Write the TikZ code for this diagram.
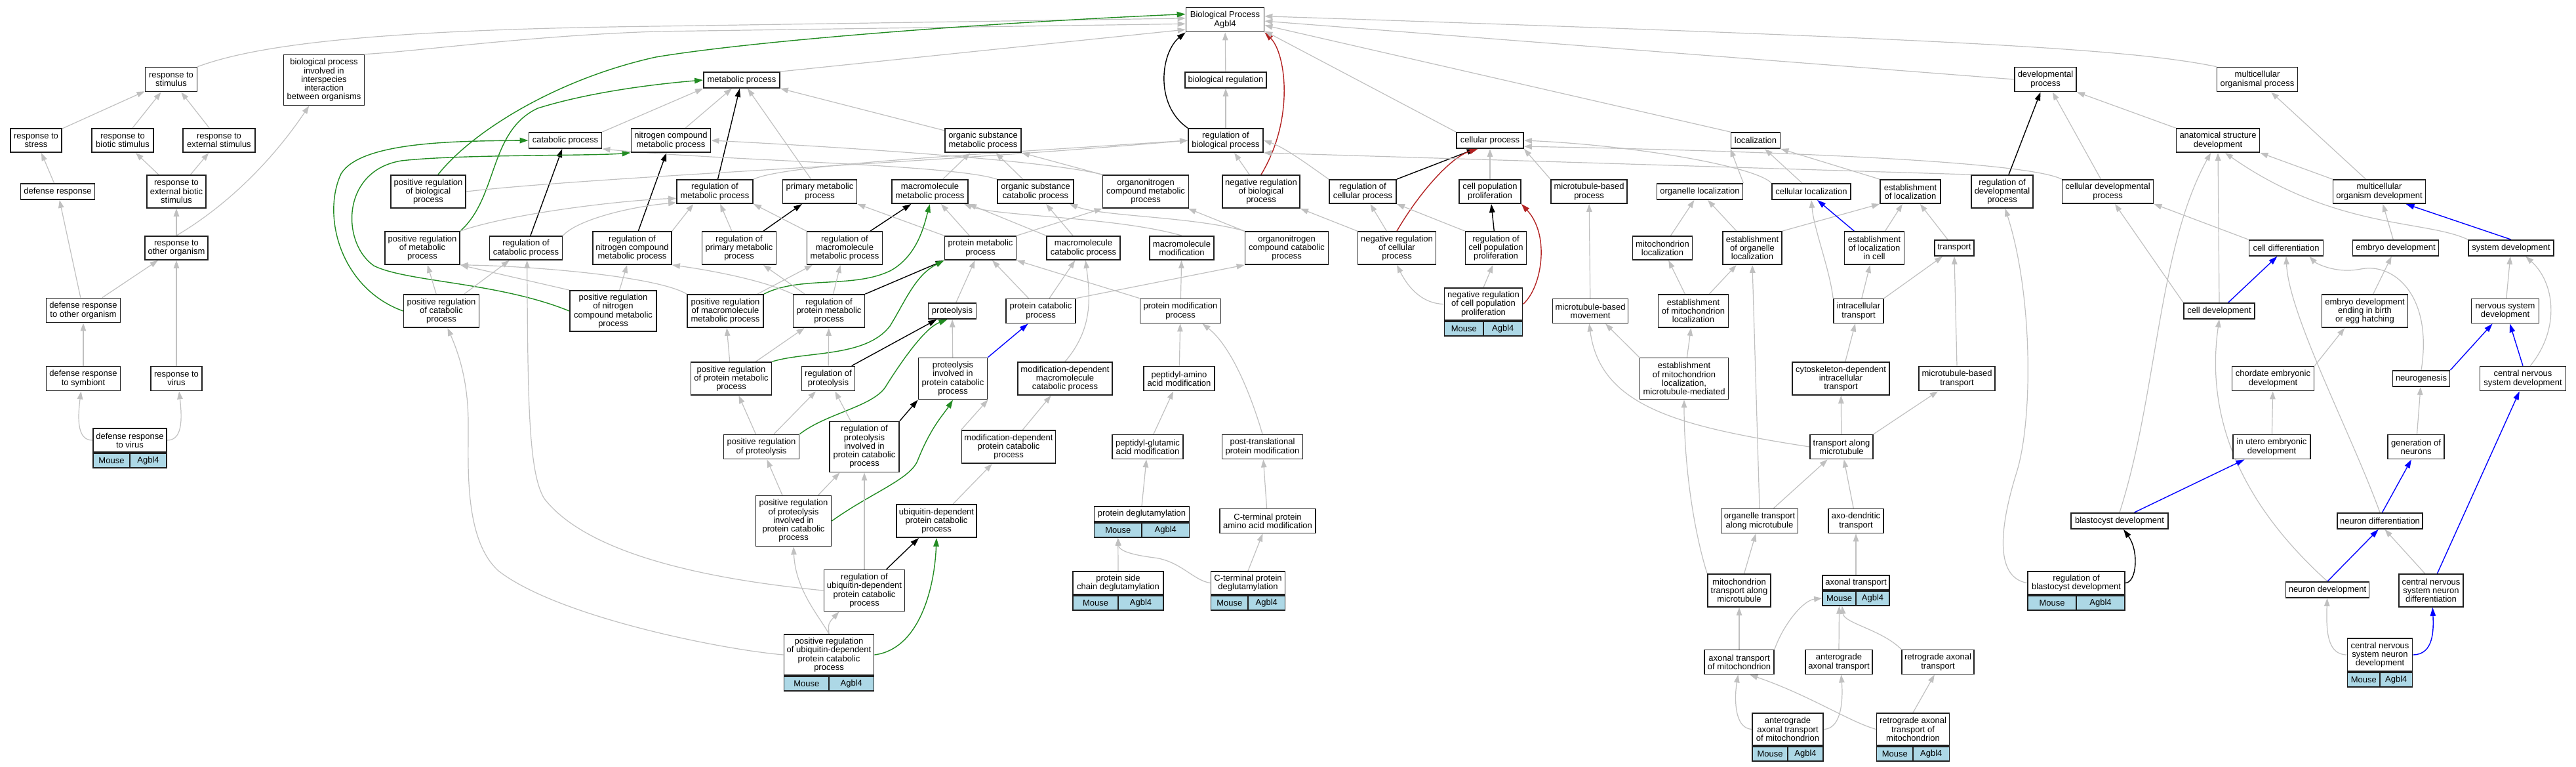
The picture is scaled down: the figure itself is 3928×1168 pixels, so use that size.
\documentclass[tikz,border=0pt]{standalone}
\usepackage{fontspec}
\setmainfont{Liberation Sans}
\usetikzlibrary{arrows.meta}
\definecolor{eg}{RGB}{192,192,192}
\definecolor{egreen}{RGB}{34,139,34}
\definecolor{ered}{RGB}{178,34,34}
\definecolor{eblue}{RGB}{0,0,255}
\definecolor{genefill}{RGB}{173,216,230}
\definecolor{boxline}{RGB}{30,30,30}
\pgfdeclarelayer{edges}
\pgfsetlayers{edges,main}
\newcommand\nodefont{\fontsize{13}{13.3}\selectfont}
\tikzset{
  gobox/.style={draw=boxline, line width=1.8pt, fill=white, align=center, inner sep=0pt, font=\nodefont},
  genecell/.style={draw=boxline, line width=1.8pt, fill=genefill, inner sep=0pt, minimum height=22pt, font=\nodefont},
  isa/.style={draw=eg, line width=1.2pt, -{Triangle[length=12pt,width=8.5pt]}},
  reg/.style={draw=black, line width=1.4pt, -{Triangle[length=13pt,width=8.5pt]}},
  posreg/.style={draw=egreen, line width=1.4pt, -{Triangle[length=13pt,width=8.5pt]}},
  negreg/.style={draw=ered, line width=1.4pt, -{Triangle[length=13pt,width=8.5pt]}},
  partof/.style={draw=eblue, line width=1.4pt, -{Triangle[length=13pt,width=8.5pt]}},
}
\newcommand\GO[6]{\node[gobox,minimum width=#4pt,minimum height=#5pt] (#1) at (#2,#3) {#6};}
\newcommand\GENE[6]{\GO{#1}{#2}{#3}{#4}{#5}{#6}
  \node[genecell,anchor=north west,minimum width={#4pt/2}] (#1m) at (#1.south west) {Mouse};
  \node[genecell,anchor=north east,minimum width={#4pt/2}] (#1g) at (#1.south east) {Agbl4};}
\begin{document}
\begin{tikzpicture}[x=1pt,y=-1pt]
\useasboundingbox (0,0) rectangle (3928,1168);
% ---- nodes ----
\GO{BP}{1868}{30}{119}{37}{Biological Process\\Agbl4}
\GO{rstim}{261}{121}{79}{37}{response to\\stimulus}
\GO{interspec}{494}{122}{123}{77}{biological process\\involved in\\interspecies\\interaction\\between organisms}
\GO{metab}{1131}{122}{116}{24}{metabolic process}
\GO{bioreg}{1869}{122}{124}{24}{biological regulation}
\GO{devp}{3119}{121}{94}{37}{developmental\\process}
\GO{mcop}{3442}{121}{123}{37}{multicellular\\organismal process}
% row 214
\GO{rstress}{55}{214}{78}{36}{response to\\stress}
\GO{rbiotic}{187}{214}{94}{36}{response to\\biotic stimulus}
\GO{rext}{334}{214}{110}{36}{response to\\external stimulus}
\GO{catab}{862}{214}{111}{24}{catabolic process}
\GO{ncmp}{1023}{214}{121}{36}{nitrogen compound\\metabolic process}
\GO{osmp}{1499}{214}{116}{36}{organic substance\\metabolic process}
\GO{rbp}{1869}{214}{114}{36}{regulation of\\biological process}
\GO{cellp}{2272}{214}{102}{24}{cellular process}
\GO{loc}{2677}{214}{75}{24}{localization}
\GO{asd}{3382}{214}{127}{36}{anatomical structure\\development}
% row 292
\GO{defresp}{88}{292}{113}{24}{defense response}
\GO{rextbio}{269}{292}{90}{50}{response to\\external biotic\\stimulus}
\GO{prbp}{653}{292}{114}{50}{positive regulation\\of biological\\process}
\GO{rmp}{1090}{292}{116}{36}{regulation of\\metabolic process}
\GO{primp}{1250}{292}{113}{36}{primary metabolic\\process}
\GO{mmp}{1418}{292}{116}{36}{macromolecule\\metabolic process}
\GO{oscp}{1579}{292}{116}{36}{organic substance\\catabolic process}
\GO{oncmp}{1747}{292}{131}{50}{organonitrogen\\compound metabolic\\process}
\GO{nrbp}{1923}{292}{118}{50}{negative regulation\\of biological\\process}
\GO{rcelp}{2078}{292}{102}{36}{regulation of\\cellular process}
\GO{cpp}{2272}{292}{94}{36}{cell population\\proliferation}
\GO{mtbp}{2423}{292}{116}{36}{microtubule-based\\process}
\GO{orgloc}{2592}{292}{131}{24}{organelle localization}
\GO{cellloc}{2762}{292}{120}{24}{cellular localization}
\GO{estloc}{2913}{292}{92}{36}{establishment\\of localization}
\GO{rdp}{3053}{292}{94}{50}{regulation of\\developmental\\process}
\GO{cdp}{3214}{292}{139}{36}{cellular developmental\\process}
\GO{mod}{3628}{292}{141}{36}{multicellular\\organism development}
% row 378
\GO{rother}{269}{378}{96}{36}{response to\\other organism}
\GO{prmp}{644}{378}{114}{50}{positive regulation\\of metabolic\\process}
\GO{rcatp}{802}{378}{111}{36}{regulation of\\catabolic process}
\GO{rncmp}{964}{378}{120}{50}{regulation of\\nitrogen compound\\metabolic process}
\GO{rprimp}{1127}{378}{113}{50}{regulation of\\primary metabolic\\process}
\GO{rmmp}{1288}{378}{115}{50}{regulation of\\macromolecule\\metabolic process}
\GO{pmp}{1495}{378}{109}{36}{protein metabolic\\process}
\GO{mcp}{1652}{378}{112}{36}{macromolecule\\catabolic process}
\GO{mmod}{1802}{378}{98}{36}{macromolecule\\modification}
\GO{onccp}{1962}{378}{127}{50}{organonitrogen\\compound catabolic\\process}
\GO{nrcp}{2130}{378}{119}{50}{negative regulation\\of cellular\\process}
\GO{rcpp}{2281}{378}{93}{50}{regulation of\\cell population\\proliferation}
\GO{mitoloc}{2535}{378}{91}{36}{mitochondrion\\localization}
\GO{estorgloc}{2672}{378}{90}{50}{establishment\\of organelle\\localization}
\GO{estlocc}{2858}{378}{91}{50}{establishment\\of localization\\in cell}
\GO{transp}{2980}{378}{60}{24}{transport}
\GO{celldiff}{3486}{378}{113}{24}{cell differentiation}
\GO{embdev}{3653}{378}{131}{24}{embryo development}
\GO{sysdev}{3829}{378}{130}{24}{system development}
% row 474
\GO{drother}{127}{473}{113}{37}{defense response\\to other organism}
\GO{prcp}{673}{474}{115}{50}{positive regulation\\of catabolic\\process}
\GO{prncmp}{935}{474}{132}{62}{positive regulation\\of nitrogen\\compound metabolic\\process}
\GO{prmmp}{1106}{474}{116}{50}{positive regulation\\of macromolecule\\metabolic process}
\GO{rprmp}{1264}{474}{109}{50}{regulation of\\protein metabolic\\process}
\GO{proteol}{1452}{474}{73}{24}{proteolysis}
\GO{pcp}{1587}{474}{106}{37}{protein catabolic\\process}
\GO{pmodp}{1800}{474}{123}{37}{protein modification\\process}
\GENE{nrcpp}{2262}{463.5}{119}{49}{negative regulation\\of cell population\\proliferation}
\GO{mtbm}{2425}{474}{115}{37}{microtubule-based\\movement}
\GO{estmitoloc}{2582}{474}{107}{50}{establishment\\of mitochondrion\\localization}
\GO{intrat}{2834}{474}{76}{37}{intracellular\\transport}
\GO{celldev}{3384}{474}{108}{24}{cell development}
\GO{edebeh}{3606}{474}{131}{50}{embryo development\\ending in birth\\or egg hatching}
\GO{nsd}{3820}{474}{103}{37}{nervous system\\development}
% row 577
\GO{drsym}{127}{577}{113}{37}{defense response\\to symbiont}
\GO{rvirus}{269}{577}{78}{37}{response to\\virus}
\GO{prpmp}{1115}{577}{123}{50}{positive regulation\\of protein metabolic\\process}
\GO{rprot}{1263}{577}{81}{37}{regulation of\\proteolysis}
\GO{pipcp}{1453}{577}{105}{63}{proteolysis\\involved in\\protein catabolic\\process}
\GO{mdmcp}{1624}{577}{144}{50}{modification-dependent\\macromolecule\\catabolic process}
\GO{paam}{1798}{577}{108}{37}{peptidyl-amino\\acid modification}
\GO{emlmm}{2568}{577}{135}{63}{establishment\\of mitochondrion\\localization,\\microtubule-mediated}
\GO{cdit}{2807}{577}{148}{50}{cytoskeleton-dependent\\intracellular\\transport}
\GO{mtbt}{2984}{577}{116}{37}{microtubule-based\\transport}
\GO{ced}{3466}{577}{125}{37}{chordate embryonic\\development}
\GO{neurog}{3692}{577}{87}{24}{neurogenesis}
\GO{cnsd}{3847}{577}{131}{37}{central nervous\\system development}
% row 681
\GENE{drvirus}{198}{671}{112}{36}{defense response\\to virus}
\GO{prprot}{1161}{681}{115}{37}{positive regulation\\of proteolysis}
\GO{rpipcp}{1318}{681}{106}{77}{regulation of\\proteolysis\\involved in\\protein catabolic\\process}
\GO{mdpcp}{1538}{681}{143}{50}{modification-dependent\\protein catabolic\\process}
\GO{pgam}{1750}{681}{108}{37}{peptidyl-glutamic\\acid modification}
\GO{ptpm}{1925}{681}{123}{37}{post-translational\\protein modification}
\GO{tam}{2808}{681}{96}{37}{transport along\\microtubule}
\GO{iued}{3464}{681}{118}{37}{in utero embryonic\\development}
\GO{gon}{3684}{681}{86}{37}{generation of\\neurons}
% row 794
\GO{prpipcp}{1210}{794}{115}{77}{positive regulation\\of proteolysis\\involved in\\protein catabolic\\process}
\GO{upcp}{1428}{794}{122}{50}{ubiquitin-dependent\\protein catabolic\\process}
\GENE{pdeglu}{1741}{783.5}{145}{23}{protein deglutamylation}
\GO{ctpaam}{1933}{794}{146}{37}{C-terminal protein\\amino acid modification}
\GO{otam}{2683}{794}{117}{37}{organelle transport\\along microtubule}
\GO{adt}{2830}{794}{84}{37}{axo-dendritic\\transport}
\GO{blast}{3232}{794}{148}{24}{blastocyst development}
\GO{neurdiff}{3629}{794}{130}{24}{neuron differentiation}
% row 900
\GO{rupcp}{1318}{900}{123}{63}{regulation of\\ubiquitin-dependent\\protein catabolic\\process}
\GENE{pscd}{1705}{888.5}{138}{35}{protein side\\chain deglutamylation}
\GENE{ctpd}{1903}{888.5}{113}{35}{C-terminal protein\\deglutamylation}
\GO{mtam}{2652}{900}{96}{50}{mitochondrion\\transport along\\microtubule}
\GENE{axt}{2830}{888}{102}{22}{axonal transport}
\GENE{rbd}{3166}{888.5}{148}{35}{regulation of\\blastocyst development}
\GO{neurdev}{3549}{899}{127}{24}{neuron development}
\GO{cnsnd}{3707}{900}{98}{50}{central nervous\\system neuron\\differentiation}
% row 1009
\GENE{prupcp}{1264}{998}{137}{62}{positive regulation\\of ubiquitin-dependent\\protein catabolic\\process}
\GO{atm}{2652}{1009}{106}{37}{axonal transport\\of mitochondrion}
\GO{aat}{2804}{1009}{102}{37}{anterograde\\axonal transport}
\GO{rat}{2955}{1009}{110}{37}{retrograde axonal\\transport}
\GENE{cnsndev}{3629}{998}{99}{50}{central nervous\\system neuron\\development}
% row 1111
\GENE{aatm}{2726}{1111.5}{108}{49}{anterograde\\axonal transport\\of mitochondrion}
\GENE{ratm}{2917}{1111.5}{111}{49}{retrograde axonal\\transport of\\mitochondrion}
% ---- edges ----
\begin{pgfonlayer}{edges}
% left cluster
\draw[isa] (rstress) -- (rstim);
\draw[isa] (rbiotic) -- (rstim);
\draw[isa] (rext) -- (rstim);
\draw[isa] (defresp) -- (rstress);
\draw[isa] (rextbio) -- (rbiotic);
\draw[isa] (rextbio) -- (rext);
\draw[isa] (rother) -- (rextbio);
\draw[isa] (rother.north) .. controls (360,305) and (425,230) .. (interspec.-120);
\draw[isa] (drother) -- (defresp);
\draw[isa] (drother) -- (rother);
\draw[isa] (drsym) -- (drother);
\draw[isa] (rvirus) -- (rother);
\draw[isa] (drvirus.west) .. controls (118,671) and (118,640) .. (drsym.-100);
\draw[isa] (drvirus.east) .. controls (278,671) and (278,640) .. (rvirus.-78);
\draw[isa] (rstim.north east) .. controls (400,65) and (600,45) .. (1000,40) -- (BP.178);
\draw[isa] (interspec.north east) .. controls (640,78) and (800,55) .. (1000,48) -- (BP.186);
% metabolic cluster
\draw[isa] (metab.north east) -- (BP.194);
\draw[posreg] (prbp.60) .. controls (720,200) and (850,120) .. (1000,87) .. controls (1150,62) and (1500,35) .. (BP.172);
\draw[isa] (catab.north east) -- (metab.south west);
\draw[isa] (ncmp) -- (metab);
\draw[reg] (rmp) -- (metab);
\draw[isa] (primp) -- (metab);
\draw[isa] (osmp) -- (metab.south east);
\draw[posreg] (prmp.north east) .. controls (760,300) and (745,200) .. (820,165) .. controls (900,140) and (1000,128) .. (metab.west);
\draw[posreg] (prcp.west) .. controls (520,440) and (490,330) .. (520,265) .. controls (550,215) and (700,215) .. (catab.west);
\draw[reg] (rcatp) -- (catab);
\draw[posreg] (prncmp.west) .. controls (760,430) and (620,430) .. (570,405) .. controls (520,370) and (520,260) .. (612,245) .. controls (700,235) and (900,238) .. (ncmp.south west);
\draw[reg] (rncmp) -- (ncmp);
\draw[isa] (oncmp.north west) .. controls (1600,245) and (1300,225) .. (ncmp.east);
\draw[isa] (oscp.north west) .. controls (1450,250) and (1100,245) .. (catab.south east);
\draw[isa] (bioreg) -- (BP);
\draw[isa] (rbp) -- (bioreg);
\draw[reg] (rbp.north west) .. controls (1760,160) and (1770,80) .. (BP.south west);
\draw[negreg] (nrbp.north) .. controls (1975,180) and (1960,80) .. (BP.south east);
\draw[isa] (prbp.east) .. controls (900,270) and (1400,250) .. (rbp.west);
\draw[isa] (rmp.north east) .. controls (1200,250) and (1500,235) .. (rbp.west);
\draw[isa] (prmp.north east) .. controls (780,325) and (950,305) .. (rmp.190);
\draw[isa] (rcatp.north east) .. controls (880,335) and (960,315) .. (rmp.196);
\draw[isa] (rncmp.north east) -- (rmp.-150);
\draw[isa] (prcp) -- (prmp);
\draw[isa] (prcp) -- (rcatp);
\draw[isa] (prncmp) -- (rncmp);
\draw[isa] (prncmp.north west) -- (prmp.south east);
\draw[isa] (prmmp.north west) .. controls (1000,420) and (800,405) .. (prmp.south east);
\draw[isa] (rupcp.west) .. controls (1100,885) and (900,850) .. (830,760) .. controls (805,720) and (805,600) .. (rcatp.-85);
\draw[isa] (prupcp.west) .. controls (1100,990) and (850,940) .. (760,870) .. controls (705,820) and (715,700) .. (714,640) .. controls (713,580) and (700,540) .. (prcp.-70);
\draw[isa] (mmp) -- (osmp);
\draw[isa] (oscp) -- (osmp);
\draw[isa] (oncmp.north west) -- (osmp.south east);
\draw[isa] (nrbp) -- (rbp);
\draw[reg] (rprimp) -- (primp);
\draw[isa] (rprimp) -- (rmp);
\draw[reg] (rmmp) -- (mmp);
\draw[isa] (rmmp.north west) -- (rmp.south east);
\draw[isa] (pmp) -- (mmp);
\draw[isa] (pmp.north west) -- (primp.south east);
\draw[isa] (pmp.north east) -- (oncmp.south west);
\draw[isa] (mcp.north west) -- (mmp.south east);
\draw[isa] (mcp) -- (oscp);
\draw[isa] (mmod.north) .. controls (1700,330) and (1520,330) .. (mmp.-20);
\draw[isa] (onccp) -- (oncmp);
\draw[isa] (onccp.north west) .. controls (1820,330) and (1680,330) .. (oscp.-20);
\draw[isa] (pcp) -- (mcp);
\draw[isa] (pcp.north east) -- (onccp.south west);
\draw[isa] (pcp) -- (pmp);
\draw[isa] (pmodp) -- (mmod);
\draw[isa] (pmodp.north west) -- (pmp.south east);
\draw[isa] (proteol) -- (pmp);
\draw[isa] (mdmcp.north) .. controls (1668,500) and (1662,450) .. (mcp.-80);
\draw[posreg] (prmmp.north east) .. controls (1220,420) and (1300,440) .. (1357,413) .. controls (1400,390) and (1410,340) .. (mmp.south);
\draw[isa] (prmmp) -- (rmmp);
\draw[isa] (rprmp) -- (rprimp);
\draw[isa] (rprmp) -- (rmmp);
\draw[reg] (rprmp.north east) -- (pmp.south west);
\draw[isa] (rprmp.north west) .. controls (1160,425) and (1070,410) .. (rncmp.south east);
\draw[posreg] (prpmp.north east) .. controls (1230,535) and (1320,545) .. (1357,497) .. controls (1380,460) and (1395,420) .. (pmp.south west);
\draw[isa] (prpmp) -- (prmmp);
\draw[isa] (prpmp) -- (rprmp);
\draw[isa] (rprot) -- (rprmp);
\draw[reg] (rprot) -- (proteol);
\draw[isa] (pipcp) -- (proteol);
\draw[partof] (pipcp.north east) -- (pcp.-135);
\draw[isa] (prprot) -- (prpmp);
\draw[isa] (prprot) -- (rprot);
\draw[posreg] (prprot.north east) .. controls (1260,630) and (1330,620) .. (1350,590) .. controls (1375,550) and (1410,500) .. (proteol.-120);
\draw[isa] (rpipcp) -- (rprot);
\draw[reg] (rpipcp.north east) -- (pipcp.south west);
\draw[isa] (prpipcp) -- (prprot);
\draw[isa] (prpipcp) -- (rpipcp);
\draw[posreg] (prpipcp.east) .. controls (1330,750) and (1390,730) .. (1400,700) .. controls (1420,650) and (1440,630) .. (pipcp.south);
\draw[isa] (mdpcp.north west) -- (pipcp.south east);
\draw[isa] (mdpcp) -- (mdmcp);
\draw[isa] (upcp) -- (mdpcp);
\draw[reg] (rupcp) -- (upcp);
\draw[isa] (rupcp) -- (rpipcp);
\draw[isa] (prupcp.north) .. controls (1263,950) .. (rupcp.-140);
\draw[isa] (prupcp.north) .. controls (1250,940) and (1213,900) .. (prpipcp.south);
\draw[posreg] (prupcp.east) .. controls (1400,990) and (1425,900) .. (upcp.south);
\draw[isa] (paam) -- (pmodp);
\draw[isa] (ptpm.north) .. controls (1910,610) and (1880,530) .. (pmodp.-30);
\draw[isa] (pgam) -- (paam);
\draw[isa] (pdeglu.north) -- (pgam);
\draw[isa] (ctpaam) -- (ptpm);
\draw[isa] (pscd.north) -- (pdeglum.south);
\draw[isa] (ctpd.west) .. controls (1820,885) and (1800,855) .. (1760,850) .. controls (1720,845) and (1706,838) .. (pdeglum.south);
\draw[isa] (ctpd.north) -- (ctpaam);
% cellular cluster
\draw[isa] (cellp.north west) -- (BP.-16);
\draw[isa] (loc.north west) -- (BP.-8);
\draw[isa] (devp.west) -- (BP.-2);
\draw[isa] (mcop.north west) .. controls (3250,75) and (3000,60) .. (BP.5);
\draw[reg] (rcelp.north east) -- (cellp.-150);
\draw[negreg] (nrcp.north) .. controls (2160,300) and (2210,240) .. (cellp.-145);
\draw[isa] (rcelp.north west) .. controls (2000,255) and (1960,225) .. (rbp.east);
\draw[isa] (nrcp) -- (rcelp);
\draw[isa] (nrcp.north west) -- (nrbp.south east);
\draw[isa] (cpp) -- (cellp);
\draw[reg] (rcpp) -- (cpp);
\draw[isa] (rcpp.north west) -- (rcelp.south east);
\draw[isa] (nrcpp.west) .. controls (2170,463) and (2148,440) .. (nrcp.south);
\draw[isa] (nrcpp.north) -- (rcpp.-100);
\draw[negreg] (nrcpp.east) .. controls (2350,440) and (2365,360) .. (cpp.south east);
\draw[isa] (mtbp.north west) -- (cellp.south east);
\draw[isa] (orgloc.north east) -- (loc.south west);
\draw[isa] (cellloc) -- (loc);
\draw[isa] (estloc.north west) -- (loc.south east);
\draw[isa] (cellloc.north west) .. controls (2680,255) and (2500,222) .. (cellp.east);
\draw[isa] (rdp.north west) -- (rbp.south east);
\draw[isa] (cdp.north west) .. controls (3100,250) and (2800,232) .. (cellp.-10);
\draw[isa] (mitoloc) -- (orgloc);
\draw[isa] (estorgloc) -- (orgloc);
\draw[isa] (estorgloc.north east) -- (estloc.south west);
\draw[partof] (estlocc) -- (cellloc.-55);
\draw[isa] (estlocc) -- (estloc);
\draw[isa] (transp) -- (estloc);
\draw[isa] (mtbm) -- (mtbp);
\draw[isa] (estmitoloc) -- (mitoloc);
\draw[isa] (estmitoloc) -- (estorgloc);
\draw[isa] (intrat.north west) .. controls (2790,410) and (2766,350) .. (cellloc.south);
\draw[isa] (intrat) -- (estlocc);
\draw[isa] (intrat.north east) -- (transp);
\draw[isa] (otam.north) -- (estorgloc.south);
\draw[isa] (emlmm) -- (estmitoloc);
\draw[isa] (emlmm.north west) -- (mtbm.-40);
\draw[isa] (tam.west) .. controls (2560,650) and (2440,620) .. (mtbm.-95);
\draw[isa] (cdit) -- (intrat);
\draw[isa] (mtbt.north) -- (transp.south);
\draw[isa] (tam) -- (cdit);
\draw[isa] (tam.north east) -- (mtbt);
\draw[isa] (otam) -- (tam);
\draw[isa] (adt) -- (tam);
\draw[isa] (mtam) -- (otam);
\draw[isa] (mtam.north west) .. controls (2580,800) and (2568,700) .. (emlmm.south);
\draw[isa] (axt.north) -- (adt.south);
\draw[isa] (atm) -- (mtam);
\draw[isa] (atm.north east) .. controls (2720,950) and (2750,915) .. (axtm.west);
\draw[isa] (aat.north) -- (axtm.south);
\draw[isa] (rat.north west) .. controls (2870,960) and (2812,950) .. (axtm.-70);
\draw[isa] (aatm.west) .. controls (2643,1110) and (2645,1060) .. (atm.-95);
\draw[isa] (aatm.east) .. controls (2810,1111) and (2810,1060) .. (aat.-80);
\draw[isa] (ratm.west) .. controls (2820,1100) and (2760,1060) .. (atm.-50);
\draw[isa] (ratm.north) -- (rat.-105);
% developmental cluster
\draw[reg] (rdp) -- (devp);
\draw[isa] (cdp) -- (devp);
\draw[isa] (asd.north west) -- (devp.south east);
\draw[isa] (mod.north west) -- (asd.south east);
\draw[isa] (mod) -- (mcop);
\draw[isa] (celldiff.north west) -- (cdp.south east);
\draw[isa] (embdev) -- (mod);
\draw[partof] (sysdev.north) -- (mod.-25);
\draw[isa] (sysdev.north west) .. controls (3700,335) and (3560,350) .. (asd.-60);
\draw[partof] (celldev) -- (celldiff);
\draw[isa] (celldev.north west) -- (cdp.-60);
\draw[isa] (celldev.north) -- (asd.south);
\draw[isa] (blast.north) .. controls (3290,600) and (3290,380) .. (asd.-120);
\draw[isa] (rbd.west) .. controls (3040,880) and (3050,800) .. (3075,720) .. controls (3100,640) and (3100,450) .. (rdp.-80);
\draw[isa] (edebeh) -- (embdev);
\draw[isa] (ced.north east) -- (edebeh.-140);
\draw[isa] (iued) -- (ced);
\draw[isa] (gon) -- (neurog);
\draw[partof] (neurog.north east) -- (nsd.-135);
\draw[isa] (nsd) -- (sysdev);
\draw[partof] (cnsd.north) -- (nsd.-70);
\draw[isa] (cnsd.60) .. controls (3905,500) and (3895,430) .. (sysdev.-30);
\draw[isa] (neurog.north) .. controls (3710,450) and (3650,400) .. (3600,410) .. controls (3560,418) and (3530,400) .. (celldiff.-20);
\draw[isa] (neurdiff.north) .. controls (3585,660) and (3490,480) .. (celldiff.south);
\draw[isa] (neurdev.north) .. controls (3420,770) and (3362,640) .. (celldev.south);
\draw[partof] (blast.30) -- (iued.-155);
\draw[partof] (neurdiff.75) -- (gon.-110);
\draw[reg] (rbd.east) .. controls (3258,888) and (3262,840) .. (blast.-65);
\draw[partof] (neurdev.north) -- (neurdiff.-100);
\draw[isa] (cnsnd.110) -- (neurdiff.-60);
\draw[partof] (cnsnd.70) -- (cnsd.-105);
\draw[isa] (cnsndev.west) .. controls (3548,998) and (3547,960) .. (neurdev.-92);
\draw[partof] (cnsndev.east) .. controls (3711,998) and (3711,960) .. (cnsnd.-85);
\end{pgfonlayer}
\end{tikzpicture}
\end{document}
